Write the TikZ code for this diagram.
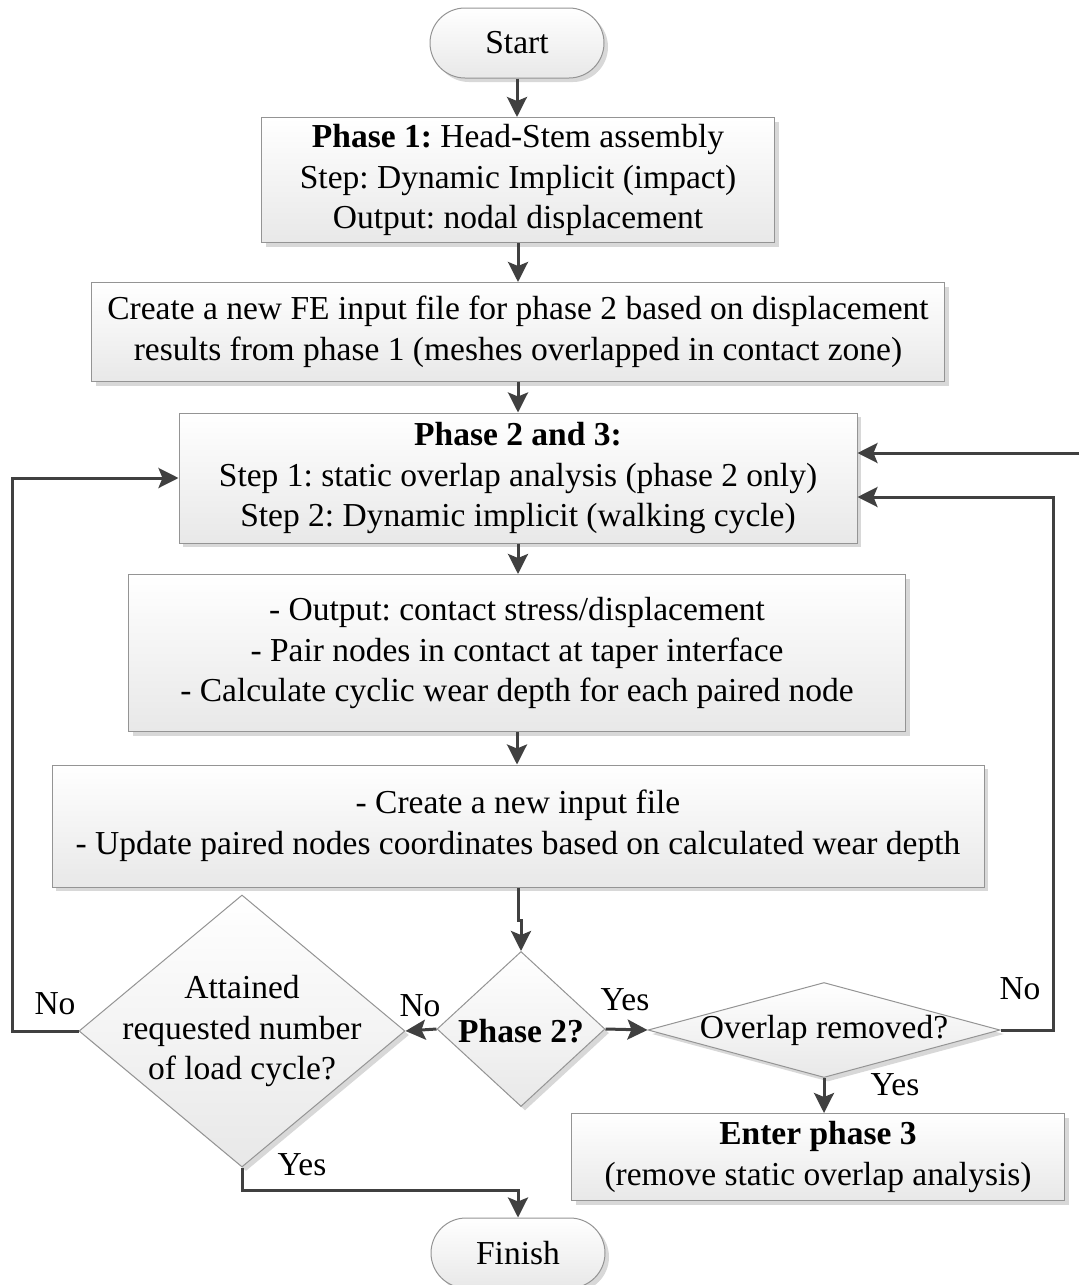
\documentclass[tikz,border=0pt]{standalone}
\usepackage{fontspec}
\setmainfont{Liberation Serif}
\usetikzlibrary{shapes.geometric,arrows.meta,shadows}
\frenchspacing
\begin{document}
\begin{tikzpicture}[x=1pt,y=-1pt,
  font=\fontsize{33.5}{40.5}\selectfont,
  shapebase/.style={draw=black!42, line width=1pt, top color=white, bottom color=black!9,
    drop shadow={shadow xshift=4pt, shadow yshift=-4pt, fill=black!22, opacity=0.7},
    align=center, inner sep=0pt},
  procbox/.style={shapebase, rectangle, minimum width=#1},
  termbox/.style={shapebase, rectangle, rounded corners=35pt, minimum width=174, minimum height=70},
  decbox/.style={shapebase, diamond, aspect=1},
  arr/.style={draw=black!75, line width=3pt, -{Stealth[length=20pt,width=20pt,inset=4pt]}},
  lbl/.style={inner sep=0pt}
]
\useasboundingbox (0,0) rectangle (1079,1285);

\node[termbox] (start) at (517,43) {Start};
\node[procbox=513, minimum height=125] (p1) at (518,180)
  {\textbf{Phase 1:} Head-Stem assembly\\Step: Dynamic Implicit (impact)\\Output: nodal displacement};
\node[procbox=853, minimum height=99] (p2) at (518,332)
  {Create a new FE input file for phase 2 based on displacement\\results from phase 1 (meshes overlapped in contact zone)};
\node[procbox=678, minimum height=130] (p3) at (518,478)
  {\textbf{Phase 2 and 3:}\\Step 1: static overlap analysis (phase 2 only)\\Step 2: Dynamic implicit (walking cycle)};
\node[procbox=777, minimum height=157] (p4) at (517,653)
  {- Output: contact stress/displacement\\- Pair nodes in contact at taper interface\\- Calculate cyclic wear depth for each paired node};
\node[procbox=932, minimum height=122] (p5) at (518,826)
  {- Create a new input file\\- Update paired nodes coordinates based on calculated wear depth};

\node[decbox, minimum width=168, minimum height=155] (ph2) at (521,1029) {};
\node[lbl] (ph2t) at (521,1031) {\textbf{Phase 2?}};
\node[decbox, minimum width=326, minimum height=272] (att) at (242,1031) {};
\node[lbl, align=center] (attt) at (242,1031) {Attained\\requested number\\of load cycle?};
\node[decbox, minimum width=352, minimum height=95] (ovl) at (824,1030) {};
\node[lbl] (ovlt) at (824,1030) {Overlap removed?};

\node[procbox=493, minimum height=87] (p3e) at (818,1157)
  {\textbf{Enter phase 3}\\(remove static overlap analysis)};
\node[termbox] (fin) at (518,1253) {Finish};

\coordinate (offr) at (1079,453);

\draw[arr] (start.south) -- (start.south |- p1.north);
\draw[arr] (p1.south) -- (p1.south |- p2.north);
\draw[arr] (p2.south) -- (p2.south |- p3.north);
\draw[arr] (p3.south) -- (p3.south |- p4.north);
\draw[arr] (p4.south) -- (p4.south |- p5.north);
\draw[arr] (p5.south) -- ++(0,33) -| (ph2.north);
\draw[arr] (ph2.west) -- (att.east);
\draw[arr] (ph2.east) -- (ovl.west);
\draw[arr] (att.west) -- ++(-66,0) |- (p3.west);
\draw[arr] (att.south) -- ++(0,23) -| (fin.north);
\draw[arr] (ovl.east) -- ++(53,0) |- ([yshift=-19pt]p3.east);
\draw[arr] (offr) -- ([yshift=25pt]p3.east);
\draw[arr] (ovl.south) -- (ovl.south |- p3e.north);

\node[lbl] (l1) at (420,1006) {No};
\node[lbl] (l2) at (625,1000) {Yes};
\node[lbl] (l3) at (55,1004) {No};
\node[lbl] (l4) at (302,1165) {Yes};
\node[lbl] (l5) at (1020,989) {No};
\node[lbl] (l6) at (895,1085) {Yes};
\end{tikzpicture}
\end{document}
